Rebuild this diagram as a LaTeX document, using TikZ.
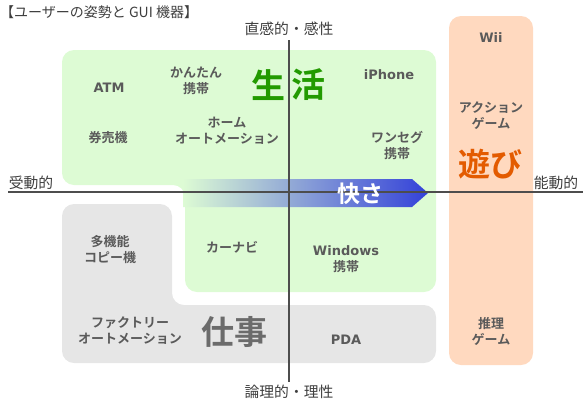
\documentclass[tikz,border=0pt]{standalone}
\usepackage{fontspec}
\setmainfont{Noto Sans CJK JP}[BoldFont={Noto Sans CJK JP Bold}]
\newfontfamily\latinitem{DejaVu Sans}
\definecolor{bggreen}{HTML}{DDFBD4}
\definecolor{bggray}{HTML}{E6E6E6}
\definecolor{bgorange}{HTML}{FFD9BF}
\definecolor{txtgray}{HTML}{5A5A5A}
\definecolor{axisgray}{HTML}{4D4D4D}
\definecolor{livegreen}{HTML}{229A00}
\definecolor{playorange}{HTML}{E35B00}
\definecolor{workgray}{HTML}{6B6B6B}
\definecolor{arrowblue}{HTML}{3341D9}
\tikzset{
  item/.style={text=txtgray, font=\bfseries\fontsize{13}{16}\selectfont, align=center, inner sep=0pt},
  latinword/.style={item, font=\latinitem\bfseries\fontsize{13}{16}\selectfont},
  axislabel/.style={text=axisgray!80!black, font=\fontsize{14.8}{16}\selectfont, inner sep=0pt},
  bigword/.style={font=\bfseries\fontsize{34}{36}\selectfont, inner sep=0pt},
  axisline/.style={draw=axisgray, line width=1.4pt},
  area/.style={rounded corners=12pt}
}
\begin{document}
\begin{tikzpicture}[x=1pt,y=-1pt]
\useasboundingbox (0,0) rectangle (583,402);
% areas
\fill[bggray, area] (62,204) -- (172,204) -- (172,305) -- (436,305) -- (436,363) -- (62,363) -- cycle;
\fill[bggreen, area] (62,50) -- (436,50) -- (436,292) -- (185,292) -- (185,185) -- (62,185) -- cycle;
\fill[bgorange, rounded corners=12pt] (449,16) rectangle (533,365);
% arrow
\shade[left color=bggreen, right color=arrowblue] (183,179) -- (412,179) -- (428,193) -- (412,207) -- (183,207) -- cycle;
% axes
\coordinate (L) at (8,192);
\coordinate (R) at (583,192);
\coordinate (T) at (289,40);
\coordinate (B) at (289,382);
\draw[axisline] (L) -- (R);
\draw[axisline] (T) -- (B);
% title and axis labels
\node[anchor=west, text=axisgray!80!black, font=\fontsize{14}{16}\selectfont, inner sep=0pt] (title) at (0,12) {【ユーザーの姿勢と GUI 機器】};
\node[axislabel] (top) at (289,29) {直感的・感性};
\node[axislabel] (bottom) at (289,392) {論理的・理性};
\node[axislabel] (passive) at (31,183) {受動的};
\node[axislabel] (active) at (556,183) {能動的};
% big words
\node[bigword, text=livegreen] (life1) at (268,85) {生};
\node[bigword, text=livegreen] (life2) at (308,85) {活};
\node[bigword, text=workgray, font=\bfseries\fontsize{33}{35}\selectfont] (work) at (234,332) {仕事};
\node[bigword, text=playorange, font=\bfseries\fontsize{32}{34}\selectfont] (play) at (490,164) {遊び};
\node[text=white, font=\bfseries\fontsize{23}{25}\selectfont, inner sep=0pt] (comfort) at (360,194) {快さ};
% items
\node[latinword] (atm) at (109,88) {ATM};
\node[item] (kantan) at (196,81) {かんたん\\携帯};
\node[latinword] (iphone) at (389,75) {iPhone};
\node[item] (ticket) at (108,138) {券売機};
\node[item] (home) at (227,131) {ホーム\\オートメーション};
\node[item] (oneseg) at (397,145) {ワンセグ\\携帯};
\node[item] (copy) at (110,250) {多機能\\コピー機};
\node[item] (navi) at (232,247) {カーナビ};
\node[item] (windows) at (346,259) {{\latinitem\fontsize{13}{16}\selectfont Windows}\\携帯};
\node[item] (factory) at (130,331) {ファクトリー\\オートメーション};
\node[latinword] (pda) at (346,340) {PDA};
\node[latinword] (wii) at (491,38) {Wii};
\node[item] (action) at (491,116) {アクション\\ゲーム};
\node[item] (puzzle) at (491,331) {推理\\ゲーム};
\end{tikzpicture}
\end{document}
